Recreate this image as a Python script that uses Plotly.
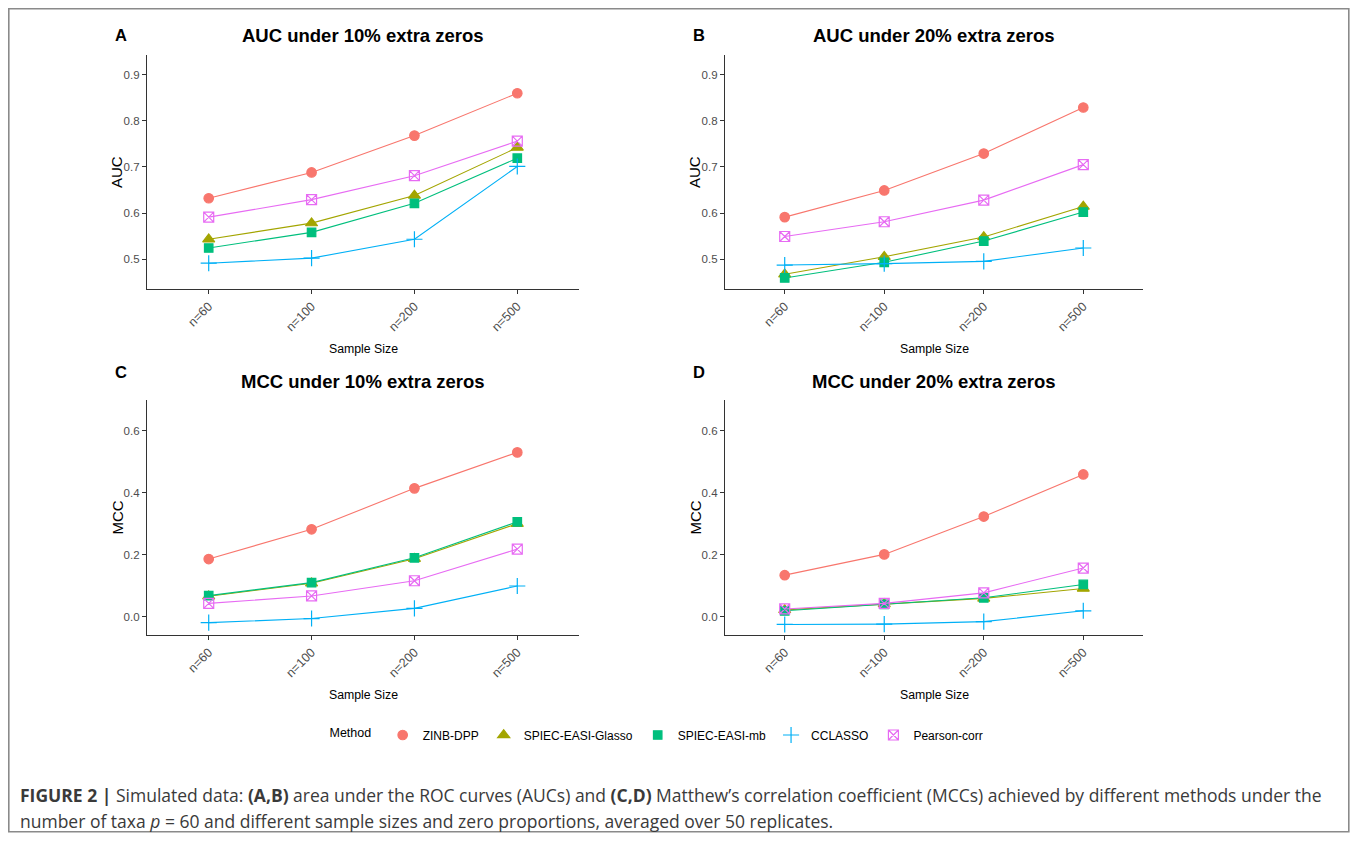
import plotly.graph_objects as go

# The page body has an 8px margin, so the figure is laid out in reference
# pixel coordinates shifted by OFF (and kept small enough not to overflow).
OFF = 8
W, H = 1358 - 2 * OFF, 841 - 2 * OFF

sample_sizes = ["n=60", "n=100", "n=200", "n=500"]
methods = ["ZINB-DPP", "SPIEC-EASI-Glasso", "SPIEC-EASI-mb", "CCLASSO", "Pearson-corr"]
colors = ["#F8766D", "#A3A500", "#00BF7D", "#00B0F6", "#E76BF3"]
symbols = ["circle", "triangle-up", "square", "cross-thin-open", "square-x-open"]
msizes = [9.5, 10.5, 8.5, 11.5, 10]

# Panel A: AUC under 10% extra zeros
auc10_zinb = [0.632, 0.688, 0.768, 0.860]
auc10_glasso = [0.543, 0.578, 0.638, 0.742]
auc10_mb = [0.524, 0.558, 0.621, 0.719]
auc10_cclasso = [0.491, 0.502, 0.543, 0.701]
auc10_pearson = [0.591, 0.629, 0.681, 0.756]

# Panel B: AUC under 20% extra zeros
auc20_zinb = [0.591, 0.649, 0.729, 0.829]
auc20_glasso = [0.467, 0.505, 0.548, 0.614]
auc20_mb = [0.459, 0.493, 0.539, 0.602]
auc20_cclasso = [0.487, 0.490, 0.495, 0.524]
auc20_pearson = [0.549, 0.581, 0.628, 0.705]

# Panel C: MCC under 10% extra zeros
mcc10_zinb = [0.186, 0.282, 0.414, 0.530]
mcc10_glasso = [0.066, 0.108, 0.187, 0.300]
mcc10_mb = [0.068, 0.110, 0.190, 0.306]
mcc10_cclasso = [-0.019, -0.006, 0.027, 0.099]
mcc10_pearson = [0.043, 0.067, 0.116, 0.218]

# Panel D: MCC under 20% extra zeros
mcc20_zinb = [0.134, 0.201, 0.323, 0.459]
mcc20_glasso = [0.022, 0.041, 0.059, 0.091]
mcc20_mb = [0.019, 0.040, 0.061, 0.104]
mcc20_cclasso = [-0.025, -0.024, -0.016, 0.019]
mcc20_pearson = [0.025, 0.043, 0.077, 0.157]

panels = [
    ("AUC under 10% extra zeros", "AUC", [auc10_zinb, auc10_glasso, auc10_mb, auc10_cclasso, auc10_pearson]),
    ("AUC under 20% extra zeros", "AUC", [auc20_zinb, auc20_glasso, auc20_mb, auc20_cclasso, auc20_pearson]),
    ("MCC under 10% extra zeros", "MCC", [mcc10_zinb, mcc10_glasso, mcc10_mb, mcc10_cclasso, mcc10_pearson]),
    ("MCC under 20% extra zeros", "MCC", [mcc20_zinb, mcc20_glasso, mcc20_mb, mcc20_cclasso, mcc20_pearson]),
]
panel_letters = ["A", "B", "C", "D"]

# pixel layout of each plotting area in reference coords (left, right, top, bottom)
boxes = [(147, 579, 55, 289), (725, 1143, 55, 289), (147, 579, 400, 635), (725, 1143, 400, 635)]
letter_y = [35, 35, 372, 372]
yranges = {"AUC": [0.435, 0.943], "MCC": [-0.059, 0.699]}
yticks = {"AUC": [0.5, 0.6, 0.7, 0.8, 0.9], "MCC": [0.0, 0.2, 0.4, 0.6]}

FONT = "Liberation Sans, Arial, sans-serif"


def px(xp):
    return (xp - OFF) / W


def py(yp):
    return 1 - (yp - OFF) / H


fig = go.Figure()
annotations = []
layout_axes = {}

for p, (title, ylab, series) in enumerate(panels):
    xa = "x" if p == 0 else f"x{p+1}"
    ya = "y" if p == 0 else f"y{p+1}"
    for m, vals in enumerate(series):
        fig.add_trace(go.Scatter(
            x=sample_sizes, y=vals, xaxis=xa, yaxis=ya,
            mode="lines+markers", name=methods[m], legendgroup=methods[m],
            showlegend=False,
            line=dict(color=colors[m], width=1.1),
            marker=dict(symbol=symbols[m], size=msizes[m], color=colors[m],
                        line=dict(color=colors[m], width=1.2)),
        ))
    l, r, t, b = boxes[p]
    axkey = "xaxis" if p == 0 else f"xaxis{p+1}"
    aykey = "yaxis" if p == 0 else f"yaxis{p+1}"
    layout_axes[axkey] = dict(
        domain=[px(l), px(r)], anchor=ya, type="category", categoryorder="array",
        categoryarray=sample_sizes, range=[-0.6, 3.6],
        showline=True, linecolor="#333333", linewidth=1.2, mirror=False,
        ticks="outside", ticklen=4, tickcolor="#333333", tickwidth=1.1,
        tickangle=-45, tickfont=dict(family=FONT, size=12.5, color="#4D4D4D"),
        showgrid=False, zeroline=False, fixedrange=True,
    )
    layout_axes[aykey] = dict(
        domain=[py(b), py(t)], anchor=xa, range=yranges[ylab],
        tickvals=yticks[ylab], tickformat=".1f",
        showline=True, linecolor="#333333", linewidth=1.2, mirror=False,
        ticks="outside", ticklen=4, tickcolor="#333333", tickwidth=1.1,
        tickfont=dict(family=FONT, size=11.5, color="#4D4D4D"),
        showgrid=False, zeroline=False, fixedrange=True,
    )
    cx = (l + r) / 2
    annotations.append(dict(text=f"<b>{title}</b>", x=px(cx), y=py(t - 19),
                            xref="paper", yref="paper", showarrow=False,
                            xanchor="center", yanchor="middle",
                            font=dict(family=FONT, size=18.5, color="black")))
    annotations.append(dict(text=f"<b>{panel_letters[p]}</b>", x=px(l - 26), y=py(letter_y[p]),
                            xref="paper", yref="paper", showarrow=False,
                            xanchor="center", yanchor="middle",
                            font=dict(family=FONT, size=16.5, color="black")))
    annotations.append(dict(text=ylab, x=px(l - 30), y=py((t + b) / 2),
                            xref="paper", yref="paper", showarrow=False, textangle=-90,
                            xanchor="center", yanchor="middle",
                            font=dict(family=FONT, size=15, color="black")))
    annotations.append(dict(text="Sample Size", x=px(cx), y=py(b + 60),
                            xref="paper", yref="paper", showarrow=False,
                            xanchor="center", yanchor="middle",
                            font=dict(family=FONT, size=12.3, color="black")))

# legend keys (markers only, like the ggplot legend)
for m in range(len(methods)):
    fig.add_trace(go.Scatter(
        x=[None], y=[None], mode="markers", name=methods[m], legendgroup=methods[m],
        showlegend=True,
        marker=dict(symbol=symbols[m], size=msizes[m], color=colors[m],
                    line=dict(color=colors[m], width=1.2)),
    ))

# caption
CAP_FONT = dict(family="Open Sans, Liberation Sans, sans-serif", size=17.5, color="#3a3a3a")
annotations.append(dict(
    text="<b>FIGURE 2 |</b> Simulated data: <b>(A,B)</b> area under the ROC curves (AUCs) and <b>(C,D)</b> "
         "Matthew\u2019s correlation coefficient (MCCs) achieved by different methods under the",
    x=px(18), y=py(795), xref="paper", yref="paper", showarrow=False,
    xanchor="left", yanchor="middle", font=CAP_FONT))
annotations.append(dict(
    text="number of taxa <i>p</i> = 60 and different sample sizes and zero proportions, averaged over 50 replicates.",
    x=px(18), y=py(821), xref="paper", yref="paper", showarrow=False,
    xanchor="left", yanchor="middle", font=CAP_FONT))

shapes = [dict(type="rect", xref="paper", yref="paper",
               x0=0.8 / W, x1=1 - 1.2 / W, y0=1.2 / H, y1=1 - 0.8 / H,
               line=dict(color="#8a8a8a", width=1.6), fillcolor="rgba(0,0,0,0)")]

fig.update_layout(
    width=W, height=H, margin=dict(l=0, r=0, t=0, b=0),
    paper_bgcolor="white", plot_bgcolor="white",
    font=dict(family=FONT, color="black"),
    showlegend=True,
    legend=dict(orientation="h", x=px(658), xanchor="center", y=py(735), yanchor="middle",
                title=dict(text="Method ", side="left", font=dict(family=FONT, size=12.5)),
                font=dict(family=FONT, size=12, color="black"),
                itemwidth=30, bgcolor="rgba(0,0,0,0)"),
    annotations=annotations, shapes=shapes,
    **layout_axes,
)

fig.write_html("out.html")
